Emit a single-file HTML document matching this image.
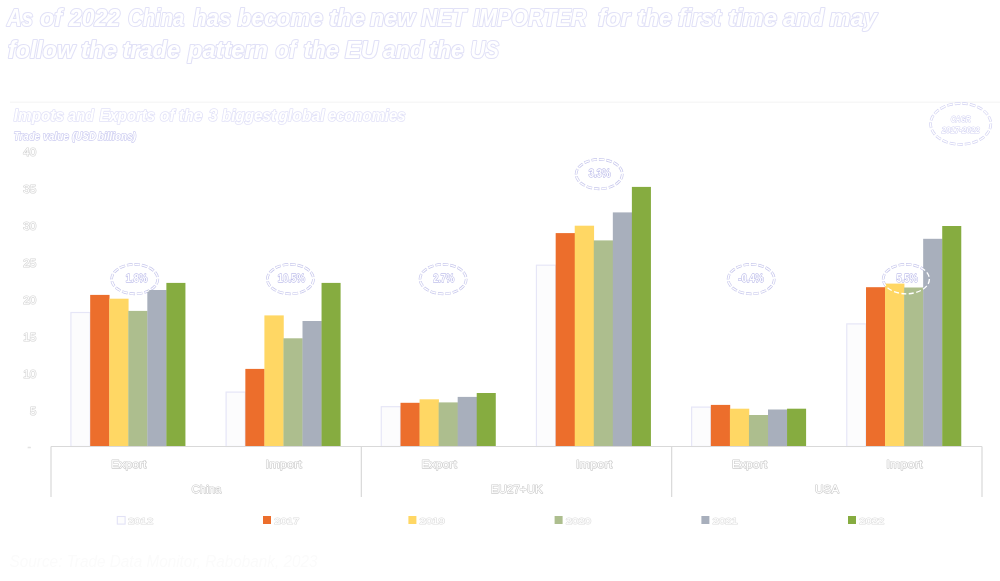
<!DOCTYPE html>
<html lang="en"><head><meta charset="utf-8"><title>Imports and Exports of the 3 biggest global economies</title>
<style>
html,body{margin:0;padding:0;background:#fff;}
body{width:1000px;height:581px;overflow:hidden;font-family:"Liberation Sans",sans-serif;}
svg{display:block;will-change:transform;opacity:.9999}
text{font-family:"Liberation Sans",sans-serif;fill:#fff;paint-order:stroke fill;stroke-linejoin:round}
.t1{font-size:23.5px;font-style:italic;font-weight:bold;stroke:#e1e1f7;stroke-width:2.1px}
.t2{font-size:16.5px;font-style:italic;font-weight:bold;stroke:#e2e2f8;stroke-width:1.6px}
.t3{font-size:10px;font-style:italic;font-weight:bold;stroke:#cdcdf1;stroke-width:1.3px}
.yl{font-size:10.5px;stroke:#d5d5d5;stroke-width:1.2px}
.cl{font-size:11.6px;stroke:#cdcdcd;stroke-width:1.25px}
.lg{font-size:9px;stroke:#dedede;stroke-width:1.1px}
.pc{font-size:10.5px;font-weight:bold;stroke:#c2c2ec;stroke-width:1.3px}
.cg{font-size:8.2px;font-weight:bold;font-style:italic;stroke:#d4d4f3;stroke-width:1.1px}
.src{font-size:16px;font-style:italic;fill:#fbfbfb;stroke:none}
</style></head><body>
<svg width="1000" height="581" viewBox="0 0 1000 581">
<rect x="0" y="0" width="1000" height="581" fill="#ffffff"/>
<g class="t1">
<text x="7.0" y="26.4" textLength="26.0" lengthAdjust="spacingAndGlyphs">As</text>
<text x="40.0" y="26.4" textLength="22.0" lengthAdjust="spacingAndGlyphs">of</text>
<text x="69.0" y="26.4" textLength="51.0" lengthAdjust="spacingAndGlyphs">2022</text>
<text x="128.0" y="26.4" textLength="56.4" lengthAdjust="spacingAndGlyphs">China</text>
<text x="193.6" y="26.4" textLength="37.4" lengthAdjust="spacingAndGlyphs">has</text>
<text x="237.6" y="26.4" textLength="85.4" lengthAdjust="spacingAndGlyphs">become</text>
<text x="329.0" y="26.4" textLength="36.0" lengthAdjust="spacingAndGlyphs">the</text>
<text x="370.0" y="26.4" textLength="45.0" lengthAdjust="spacingAndGlyphs">new</text>
<text x="421.0" y="26.4" textLength="45.0" lengthAdjust="spacingAndGlyphs">NET</text>
<text x="473.0" y="26.4" textLength="113.4" lengthAdjust="spacingAndGlyphs">IMPORTER</text>
<text x="598.0" y="26.4" textLength="32.0" lengthAdjust="spacingAndGlyphs">for</text>
<text x="637.0" y="26.4" textLength="35.0" lengthAdjust="spacingAndGlyphs">the</text>
<text x="678.0" y="26.4" textLength="43.0" lengthAdjust="spacingAndGlyphs">first</text>
<text x="728.0" y="26.4" textLength="49.0" lengthAdjust="spacingAndGlyphs">time</text>
<text x="783.0" y="26.4" textLength="41.0" lengthAdjust="spacingAndGlyphs">and</text>
<text x="829.6" y="26.4" textLength="47.4" lengthAdjust="spacingAndGlyphs">may</text>
</g>
<g class="t1">
<text x="8.0" y="57.8" textLength="67.0" lengthAdjust="spacingAndGlyphs">follow</text>
<text x="81.0" y="57.8" textLength="36.0" lengthAdjust="spacingAndGlyphs">the</text>
<text x="122.4" y="57.8" textLength="57.6" lengthAdjust="spacingAndGlyphs">trade</text>
<text x="188.0" y="57.8" textLength="80.0" lengthAdjust="spacingAndGlyphs">pattern</text>
<text x="275.6" y="57.8" textLength="20.4" lengthAdjust="spacingAndGlyphs">of</text>
<text x="303.6" y="57.8" textLength="35.4" lengthAdjust="spacingAndGlyphs">the</text>
<text x="345.0" y="57.8" textLength="33.0" lengthAdjust="spacingAndGlyphs">EU</text>
<text x="383.0" y="57.8" textLength="41.0" lengthAdjust="spacingAndGlyphs">and</text>
<text x="429.0" y="57.8" textLength="35.0" lengthAdjust="spacingAndGlyphs">the</text>
<text x="470.6" y="57.8" textLength="28.4" lengthAdjust="spacingAndGlyphs">US</text>
</g>
<line x1="10" y1="102.2" x2="1000" y2="102.2" stroke="#f3f3f3" stroke-width="1"/>
<g class="t2">
<text x="13.8" y="120.8" textLength="50.2" lengthAdjust="spacingAndGlyphs">Impots</text>
<text x="68.0" y="120.8" textLength="26.0" lengthAdjust="spacingAndGlyphs">and</text>
<text x="99.6" y="120.8" textLength="55.4" lengthAdjust="spacingAndGlyphs">Exports</text>
<text x="160.0" y="120.8" textLength="14.5" lengthAdjust="spacingAndGlyphs">of</text>
<text x="178.7" y="120.8" textLength="23.8" lengthAdjust="spacingAndGlyphs">the</text>
<text x="208.7" y="120.8" textLength="8.8" lengthAdjust="spacingAndGlyphs">3</text>
<text x="222.0" y="120.8" textLength="54.0" lengthAdjust="spacingAndGlyphs">biggest</text>
<text x="278.5" y="120.8" textLength="46.0" lengthAdjust="spacingAndGlyphs">global</text>
<text x="328.0" y="120.8" textLength="77.5" lengthAdjust="spacingAndGlyphs">economies</text>
</g>
<g class="t3">
<text x="13.8" y="139.5" textLength="26.2" lengthAdjust="spacingAndGlyphs">Trade</text>
<text x="43.0" y="139.5" textLength="26.0" lengthAdjust="spacingAndGlyphs">value</text>
<text x="72.0" y="139.5" textLength="24.0" lengthAdjust="spacingAndGlyphs">(USD</text>
<text x="98.0" y="139.5" textLength="38.0" lengthAdjust="spacingAndGlyphs">billions)</text>
</g>
<text class="yl" x="23.3" y="156.1" textLength="13.0" lengthAdjust="spacingAndGlyphs">40</text>
<text class="yl" x="23.3" y="193.1" textLength="13.0" lengthAdjust="spacingAndGlyphs">35</text>
<text class="yl" x="23.3" y="230.1" textLength="13.0" lengthAdjust="spacingAndGlyphs">30</text>
<text class="yl" x="23.3" y="267.1" textLength="13.0" lengthAdjust="spacingAndGlyphs">25</text>
<text class="yl" x="23.3" y="304.1" textLength="13.0" lengthAdjust="spacingAndGlyphs">20</text>
<text class="yl" x="23.3" y="341.1" textLength="13.0" lengthAdjust="spacingAndGlyphs">15</text>
<text class="yl" x="23.3" y="378.1" textLength="13.0" lengthAdjust="spacingAndGlyphs">10</text>
<text class="yl" x="30.0" y="415.1" textLength="6.3" lengthAdjust="spacingAndGlyphs">5</text>
<text class="yl" x="27.6" y="450.0" style="fill:#e2e2e2;stroke:#e6e6e6;stroke-width:.6px">-</text>
<ellipse cx="134.7" cy="279.1" rx="23.1" ry="14.7" pathLength="128" fill="none" stroke="#c6c6ec" stroke-width="2.7" stroke-dasharray="5.9 2.1" stroke-dashoffset="0.3"/>
<ellipse cx="290.4" cy="279.1" rx="23.1" ry="14.7" pathLength="128" fill="none" stroke="#c6c6ec" stroke-width="2.7" stroke-dasharray="5.9 2.1" stroke-dashoffset="0.3"/>
<ellipse cx="443.1" cy="279.1" rx="23.1" ry="14.7" pathLength="128" fill="none" stroke="#c6c6ec" stroke-width="2.7" stroke-dasharray="5.9 2.1" stroke-dashoffset="0.3"/>
<ellipse cx="599.2" cy="174.1" rx="23.1" ry="14.7" pathLength="128" fill="none" stroke="#c6c6ec" stroke-width="2.7" stroke-dasharray="5.9 2.1" stroke-dashoffset="0.3"/>
<ellipse cx="751.2" cy="279.1" rx="23.1" ry="14.7" pathLength="128" fill="none" stroke="#c6c6ec" stroke-width="2.7" stroke-dasharray="5.9 2.1" stroke-dashoffset="0.3"/>
<ellipse cx="906.3" cy="279.1" rx="23.1" ry="14.7" pathLength="128" fill="none" stroke="#c6c6ec" stroke-width="2.7" stroke-dasharray="5.9 2.1" stroke-dashoffset="0.3"/>
<ellipse cx="960.7" cy="123.9" rx="30.1" ry="20.5" pathLength="168" fill="none" stroke="#d2d2f2" stroke-width="2.7" stroke-dasharray="5.9 2.1" stroke-dashoffset="0.3"/>
<rect x="70.93" y="312.50" width="19.25" height="134.00" fill="#fcfcfd" stroke="#e6e6f7" stroke-width="1.2"/>
<rect x="90.18" y="294.90" width="19.35" height="151.60" fill="#EC6E2C"/>
<rect x="109.23" y="298.70" width="19.35" height="147.80" fill="#FFD764"/>
<rect x="128.28" y="310.90" width="19.35" height="135.60" fill="#ADBE8E"/>
<rect x="147.33" y="290.00" width="19.35" height="156.50" fill="#A8AFBC"/>
<rect x="166.38" y="282.90" width="19.05" height="163.60" fill="#86AC40"/>
<rect x="226.10" y="392.10" width="19.25" height="54.40" fill="#fcfcfd" stroke="#e6e6f7" stroke-width="1.2"/>
<rect x="245.35" y="368.90" width="19.35" height="77.60" fill="#EC6E2C"/>
<rect x="264.40" y="315.40" width="19.35" height="131.10" fill="#FFD764"/>
<rect x="283.45" y="338.30" width="19.35" height="108.20" fill="#ADBE8E"/>
<rect x="302.50" y="321.00" width="19.35" height="125.50" fill="#A8AFBC"/>
<rect x="321.55" y="282.90" width="19.05" height="163.60" fill="#86AC40"/>
<rect x="381.27" y="406.70" width="19.25" height="39.80" fill="#fcfcfd" stroke="#e6e6f7" stroke-width="1.2"/>
<rect x="400.52" y="402.80" width="19.35" height="43.70" fill="#EC6E2C"/>
<rect x="419.57" y="399.30" width="19.35" height="47.20" fill="#FFD764"/>
<rect x="438.62" y="402.40" width="19.35" height="44.10" fill="#ADBE8E"/>
<rect x="457.67" y="396.90" width="19.35" height="49.60" fill="#A8AFBC"/>
<rect x="476.72" y="393.00" width="19.05" height="53.50" fill="#86AC40"/>
<rect x="536.43" y="265.20" width="19.25" height="181.30" fill="#fcfcfd" stroke="#e6e6f7" stroke-width="1.2"/>
<rect x="555.68" y="233.10" width="19.35" height="213.40" fill="#EC6E2C"/>
<rect x="574.73" y="225.70" width="19.35" height="220.80" fill="#FFD764"/>
<rect x="593.78" y="240.40" width="19.35" height="206.10" fill="#ADBE8E"/>
<rect x="612.83" y="212.40" width="19.35" height="234.10" fill="#A8AFBC"/>
<rect x="631.88" y="186.90" width="19.05" height="259.60" fill="#86AC40"/>
<rect x="691.60" y="407.10" width="19.25" height="39.40" fill="#fcfcfd" stroke="#e6e6f7" stroke-width="1.2"/>
<rect x="710.85" y="404.90" width="19.35" height="41.60" fill="#EC6E2C"/>
<rect x="729.90" y="408.70" width="19.35" height="37.80" fill="#FFD764"/>
<rect x="748.95" y="415.00" width="19.35" height="31.50" fill="#ADBE8E"/>
<rect x="768.00" y="409.50" width="19.35" height="37.00" fill="#A8AFBC"/>
<rect x="787.05" y="408.70" width="19.05" height="37.80" fill="#86AC40"/>
<rect x="846.77" y="323.90" width="19.25" height="122.60" fill="#fcfcfd" stroke="#e6e6f7" stroke-width="1.2"/>
<rect x="866.02" y="287.20" width="19.35" height="159.30" fill="#EC6E2C"/>
<rect x="885.07" y="283.60" width="19.35" height="162.90" fill="#FFD764"/>
<rect x="904.12" y="287.50" width="19.35" height="159.00" fill="#ADBE8E"/>
<rect x="923.17" y="238.80" width="19.35" height="207.70" fill="#A8AFBC"/>
<rect x="942.22" y="226.00" width="19.05" height="220.50" fill="#86AC40"/>
<line x1="51.0" y1="446.5" x2="982.0" y2="446.5" stroke="#d9d9d9" stroke-width="1.2"/>
<line x1="51.00" y1="446.5" x2="51.00" y2="497" stroke="#d9d9d9" stroke-width="1.2"/>
<line x1="361.33" y1="446.5" x2="361.33" y2="497" stroke="#d9d9d9" stroke-width="1.2"/>
<line x1="671.67" y1="446.5" x2="671.67" y2="497" stroke="#d9d9d9" stroke-width="1.2"/>
<line x1="982.00" y1="446.5" x2="982.00" y2="497" stroke="#d9d9d9" stroke-width="1.2"/>
<text class="cl" x="111.3" y="467.6" textLength="35.2" lengthAdjust="spacingAndGlyphs">Export</text>
<text class="cl" x="265.6" y="467.6" textLength="36.2" lengthAdjust="spacingAndGlyphs">Import</text>
<text class="cl" x="421.6" y="467.6" textLength="35.2" lengthAdjust="spacingAndGlyphs">Export</text>
<text class="cl" x="576.0" y="467.6" textLength="36.2" lengthAdjust="spacingAndGlyphs">Import</text>
<text class="cl" x="731.9" y="467.6" textLength="35.2" lengthAdjust="spacingAndGlyphs">Export</text>
<text class="cl" x="886.3" y="467.6" textLength="36.2" lengthAdjust="spacingAndGlyphs">Import</text>
<text class="cl" x="191.5" y="493.3" textLength="30.0" lengthAdjust="spacingAndGlyphs">China</text>
<text class="cl" x="490.8" y="493.3" textLength="52.0" lengthAdjust="spacingAndGlyphs">EU27+UK</text>
<text class="cl" x="815.1" y="493.3" textLength="24.0" lengthAdjust="spacingAndGlyphs">USA</text>
<rect x="117.3" y="516.5" width="7.8" height="7.6" fill="#fdfdfd" stroke="#e2e2f6" stroke-width="1.1"/>
<text class="lg" x="128.0" y="524.3" textLength="25.2" lengthAdjust="spacingAndGlyphs">2012</text>
<rect x="263" y="516" width="8" height="8" fill="#EC6E2C"/>
<text class="lg" x="274.2" y="524.3" textLength="25.2" lengthAdjust="spacingAndGlyphs">2017</text>
<rect x="408.4" y="516" width="8" height="8" fill="#FFD764"/>
<text class="lg" x="419.6" y="524.3" textLength="25.2" lengthAdjust="spacingAndGlyphs">2019</text>
<rect x="554.6" y="516" width="8" height="8" fill="#ADBE8E"/>
<text class="lg" x="565.8" y="524.3" textLength="25.2" lengthAdjust="spacingAndGlyphs">2020</text>
<rect x="701.4" y="516" width="8" height="8" fill="#A8AFBC"/>
<text class="lg" x="712.6" y="524.3" textLength="25.2" lengthAdjust="spacingAndGlyphs">2021</text>
<rect x="848" y="516" width="8" height="8" fill="#86AC40"/>
<text class="lg" x="859.2" y="524.3" textLength="25.2" lengthAdjust="spacingAndGlyphs">2022</text>
<ellipse cx="134.7" cy="279.1" rx="23.1" ry="14.7" pathLength="128" fill="none" stroke="#ffffff" stroke-width="1.35" stroke-dasharray="5.3 2.7"/>
<text class="pc" x="125.8" y="282.0" textLength="21.5" lengthAdjust="spacingAndGlyphs">1.8%</text>
<ellipse cx="290.4" cy="279.1" rx="23.1" ry="14.7" pathLength="128" fill="none" stroke="#ffffff" stroke-width="1.35" stroke-dasharray="5.3 2.7"/>
<text class="pc" x="277.8" y="282.0" textLength="27.1" lengthAdjust="spacingAndGlyphs">10.5%</text>
<ellipse cx="443.1" cy="279.1" rx="23.1" ry="14.7" pathLength="128" fill="none" stroke="#ffffff" stroke-width="1.35" stroke-dasharray="5.3 2.7"/>
<text class="pc" x="433.2" y="282.0" textLength="21.0" lengthAdjust="spacingAndGlyphs">2.7%</text>
<ellipse cx="599.2" cy="174.1" rx="23.1" ry="14.7" pathLength="128" fill="none" stroke="#ffffff" stroke-width="1.35" stroke-dasharray="5.3 2.7"/>
<text class="pc" x="588.7" y="177.0" textLength="21.8" lengthAdjust="spacingAndGlyphs">3.3%</text>
<ellipse cx="751.2" cy="279.1" rx="23.1" ry="14.7" pathLength="128" fill="none" stroke="#ffffff" stroke-width="1.35" stroke-dasharray="5.3 2.7"/>
<text class="pc" x="738.2" y="282.0" textLength="25.4" lengthAdjust="spacingAndGlyphs">-0.4%</text>
<ellipse cx="906.3" cy="279.1" rx="23.1" ry="14.7" pathLength="128" fill="none" stroke="#ffffff" stroke-width="1.35" stroke-dasharray="5.3 2.7"/>
<text class="pc" x="896.6" y="282.0" textLength="21.1" lengthAdjust="spacingAndGlyphs">5.5%</text>
<ellipse cx="960.7" cy="123.9" rx="30.1" ry="20.5" pathLength="168" fill="none" stroke="#ffffff" stroke-width="1.35" stroke-dasharray="5.3 2.7"/>
<text class="cg" x="950.7" y="122.2" textLength="20.0" lengthAdjust="spacingAndGlyphs">CAGR</text>
<text class="cg" x="941.7" y="132.6" textLength="38.0" lengthAdjust="spacingAndGlyphs">2017-2022</text>
<text class="src" x="9.6" y="567.3" textLength="308" lengthAdjust="spacingAndGlyphs">Source: Trade Data Monitor, Rabobank, 2023</text>
</svg></body></html>
